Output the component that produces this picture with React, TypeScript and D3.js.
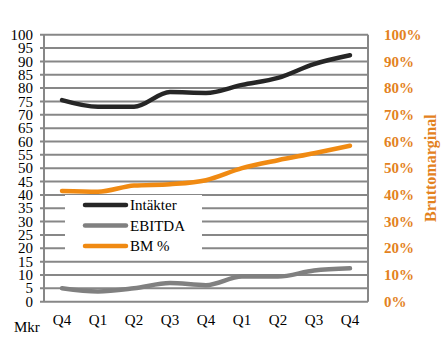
import React from "react";
import * as d3 from "d3";

const categories = ["Q4", "Q1", "Q2", "Q3", "Q4", "Q1", "Q2", "Q3", "Q4"];
const intakter = [75.5, 73, 73, 78.5, 78.2, 81.2, 83.8, 89, 92.3];
const ebitda = [5, 3.8, 5, 7, 6.2, 9.4, 9.4, 11.7, 12.5];
const bm = [41.5, 41.2, 43.5, 44, 45.5, 50, 53, 55.6, 58.4];
const leftTicks = d3.range(0, 101, 5);
const rightTicks = d3.range(0, 101, 10);

const W = 444, H = 355;
const left = 44, right = 368, top = 34.7, bottom = 301.7;
const FONT = '"Liberation Serif"';
const BLACK = "#262626", GREY = "#808080", ORANGE = "#F08A12", LABEL_OR = "#E3821E", GRID = "#878787";
const txt = { fontFamily: FONT };

export default function App() {
  const x = d3.scaleBand<number>().domain(categories.map((_, i) => i)).range([left, right]);
  const yL = d3.scaleLinear().domain([0, 100]).range([bottom, top]);
  const yR = d3.scaleLinear().domain([0, 100]).range([bottom, top]);
  const cx = (i: number) => (x(i) as number) + x.bandwidth() / 2;
  const lineL = d3.line<number>().x((_, i) => cx(i)).y(d => yL(d)).curve(d3.curveMonotoneX);
  const lineR = d3.line<number>().x((_, i) => cx(i)).y(d => yR(d)).curve(d3.curveMonotoneX);
  const legend = [
    { label: "Intäkter", color: BLACK },
    { label: "EBITDA", color: GREY },
    { label: "BM %", color: ORANGE },
  ];
  return (
    <svg width={W} height={H} style={{ position: "absolute", left: 0, top: 0 }}>
      <rect width={W} height={H} fill="#fff" />
      {leftTicks.map(t => (
        <line key={t} x1={left - 4} x2={right} y1={yL(t)} y2={yL(t)} stroke={GRID} strokeWidth={2} />
      ))}
      <line x1={left} x2={left} y1={top} y2={bottom} stroke={GRID} strokeWidth={2} />
      <line x1={right} x2={right} y1={top} y2={bottom} stroke={GRID} strokeWidth={2} />
      {leftTicks.map(t => (
        <text key={t} style={txt} x={33} y={yL(t)} dy="0.34em" textAnchor="end" fontSize={15} fill="#000">{t}</text>
      ))}
      {rightTicks.map(t => (
        <text key={t} style={txt} x={384} y={yR(t)} dy="0.34em" textAnchor="start" fontSize={15} fontWeight="bold" fill={LABEL_OR}>{t}%</text>
      ))}
      <text style={txt} transform={`translate(436,${(top + bottom) / 2}) rotate(-90)`} textAnchor="middle" fontSize={16} fontWeight="bold" fill={LABEL_OR}>Bruttomarginal</text>
      {categories.map((c, i) => (
        <text key={i} style={txt} x={cx(i)} y={320} dy="0.34em" textAnchor="middle" fontSize={15} fill="#000">{c}</text>
      ))}
      <text style={txt} x={14} y={332} fontSize={15} fill="#000">Mkr</text>
      <path d={lineL(intakter) || ""} fill="none" stroke={BLACK} strokeWidth={4.5} strokeLinecap="round" strokeLinejoin="round" />
      <path d={lineL(ebitda) || ""} fill="none" stroke={GREY} strokeWidth={4.5} strokeLinecap="round" strokeLinejoin="round" />
      <path d={lineR(bm) || ""} fill="none" stroke={ORANGE} strokeWidth={4.5} strokeLinecap="round" strokeLinejoin="round" />
      <rect x={65} y={195} width={137} height={62} fill="#fff" />
      {legend.map((l, i) => (
        <g key={l.label} transform={`translate(0,${205 + i * 20.5})`}>
          <line x1={85} x2={126} y1={0} y2={0} stroke={l.color} strokeWidth={4.5} strokeLinecap="round" />
          <text style={txt} x={130} y={0} dy="0.34em" fontSize={15} fill="#000">{l.label}</text>
        </g>
      ))}
    </svg>
  );
}
